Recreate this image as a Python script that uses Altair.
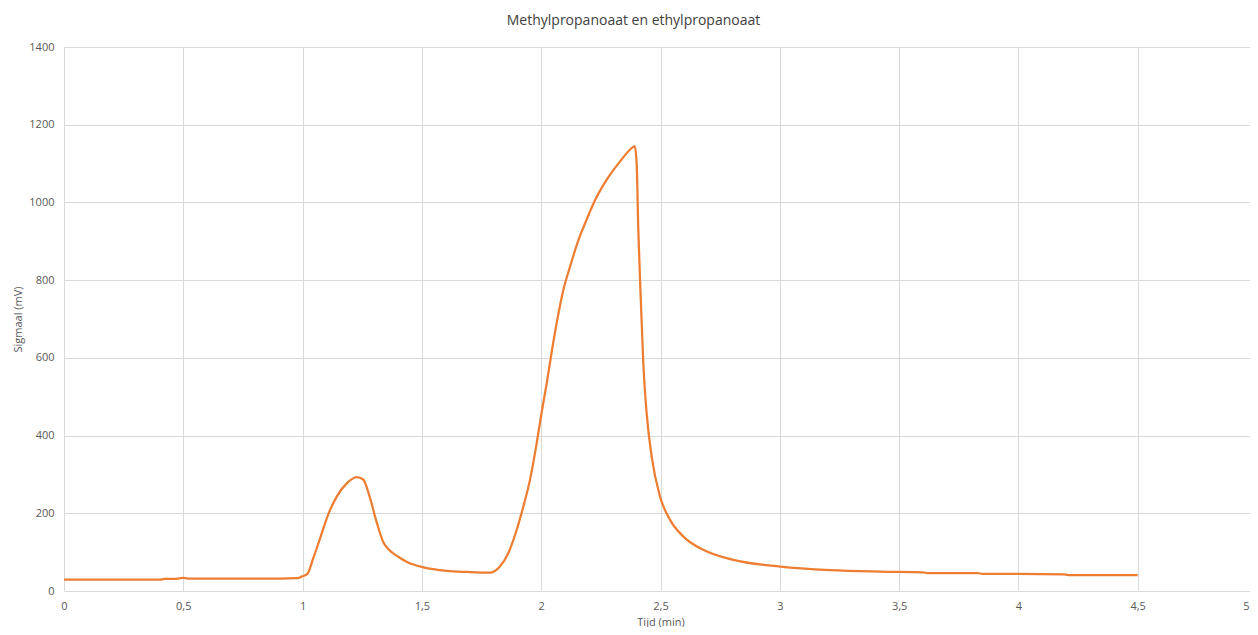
import altair as alt
import pandas as pd

tijd = [0, 0.1, 0.2, 0.3, 0.4, 0.42, 0.45, 0.48, 0.5, 0.52, 0.6, 0.7, 0.8, 0.9, 0.98,
        0.996, 1.02, 1.045, 1.073, 1.108, 1.143, 1.185, 1.227, 1.254, 1.28, 1.31,
        1.339, 1.359, 1.401, 1.44, 1.507, 1.605, 1.689, 1.785, 1.827, 1.862, 1.897,
        1.925, 1.953, 1.981, 2.002, 2.023, 2.044, 2.065, 2.093, 2.121, 2.156, 2.19,
        2.226, 2.274, 2.33, 2.386, 2.392, 2.40, 2.407, 2.417, 2.428, 2.442, 2.463,
        2.498, 2.54, 2.596, 2.679, 2.805, 3.002, 3.21, 3.42, 3.6, 3.62, 3.83, 3.85,
        4.0, 4.19, 4.21, 4.4, 4.5]
signaal = [29, 29, 29, 29, 29, 31, 31, 32, 34, 32, 32, 32, 32, 32, 33,
           37, 44, 85, 135, 198, 243, 277, 293, 287, 245, 178,
           125, 108, 88, 74, 61, 52, 49, 47, 63, 97, 157,
           217, 286, 380, 460, 534, 615, 690, 775, 835, 903, 955,
           1006, 1058, 1105, 1143, 1145, 1101, 929, 757, 586, 457, 346,
           243, 183, 140, 106, 80, 63, 54, 50, 48, 46, 46, 44,
           44, 43, 41, 41, 41]

x_ticks = [0, 0.5, 1, 1.5, 2, 2.5, 3, 3.5, 4, 4.5, 5]
y_ticks = [0, 200, 400, 600, 800, 1000, 1200, 1400]

df = pd.DataFrame({"Tijd": tijd, "Signaal": signaal})

FONT = "Open Sans"
GREY = "#595959"

chart = alt.Chart(df).mark_line(color="#ED7D31", strokeWidth=2.25,
                                interpolate="monotone").encode(
    x=alt.X("Tijd:Q", scale=alt.Scale(domain=[0, 5], nice=False),
            axis=alt.Axis(title="Tijd (min)", values=x_ticks,
                          labelExpr="replace(toString(datum.value), '.', ',')",
                          labelAlign=alt.condition("datum.value == 5", alt.value("right"), alt.value("center")),
                          labelOffset=alt.condition("datum.value == 5", alt.value(-8), alt.value(0)),
                          grid=True, gridColor="#d9d9d9", domain=False, ticks=False,
                          labelPadding=9, titlePadding=5, labelFontSize=11, titleFontSize=11,
                          labelColor=GREY, titleColor=GREY,
                          labelFont=FONT, titleFont=FONT, titleFontWeight="normal",
                          labelFlush=False)),
    y=alt.Y("Signaal:Q", scale=alt.Scale(domain=[0, 1400], nice=False),
            axis=alt.Axis(title="Sigmaal (mV)", values=y_ticks, format="d",
                          grid=True, gridColor="#d9d9d9", domain=False, ticks=False,
                          labelPadding=10, titlePadding=5, labelFontSize=11, titleFontSize=11,
                          labelColor=GREY, titleColor=GREY,
                          labelFont=FONT, titleFont=FONT, titleFontWeight="normal")),
).properties(
    width=1193,
    height=544,
    title=alt.TitleParams("Methylpropanoaat en ethylpropanoaat", fontSize=14,
                          font=FONT, fontWeight="normal", color="#404040",
                          anchor="middle", dx=-27, offset=13),
    autosize=alt.AutoSizeParams(type="none"),
    padding={"left": 56, "top": 39, "right": -7, "bottom": 36},
).configure_view(stroke=None)

chart.save("out.html", embed_options={"renderer": "svg", "actions": False})
